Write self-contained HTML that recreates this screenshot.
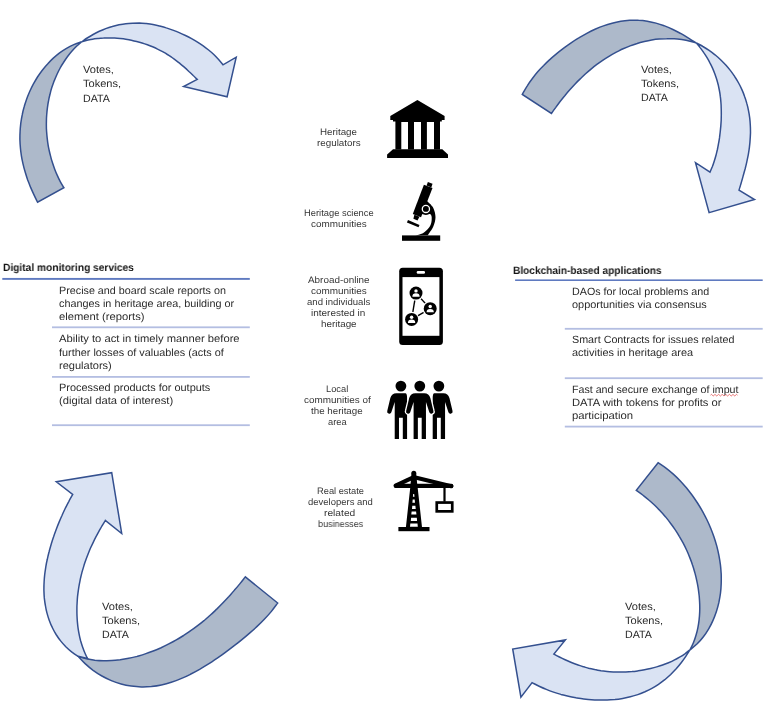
<!DOCTYPE html>
<html><head><meta charset="utf-8"><title>Diagram</title><style>
html,body{margin:0;padding:0;background:#fff}
#c{position:relative;width:771px;height:712px;overflow:hidden;background:#fff;font-family:"Liberation Sans",sans-serif;text-rendering:geometricPrecision}
#c svg{position:absolute;left:0;top:0}
.t{position:absolute;white-space:nowrap;line-height:1;transform-origin:0 0;display:inline-block;will-change:transform}
.b{font-weight:bold}
</style></head><body><div id="c">
<svg width="771" height="712" viewBox="0 0 771 712">
<path d="M37.6,202.2 C37.0,201.0 35.1,197.4 34.0,194.9 C32.8,192.4 31.7,189.9 30.6,187.4 C29.6,184.8 28.6,182.3 27.6,179.7 C26.7,177.1 25.9,174.5 25.1,171.8 C24.3,169.2 23.6,166.5 23.0,163.9 C22.4,161.2 21.8,158.5 21.4,155.8 C21.0,153.1 20.6,150.4 20.4,147.7 C20.1,144.9 20.0,142.2 19.9,139.5 C19.9,136.7 19.9,134.0 20.1,131.3 C20.2,128.6 20.5,125.8 20.8,123.1 C21.2,120.4 21.6,117.7 22.2,115.0 C22.7,112.3 23.3,109.7 24.1,107.0 C24.8,104.4 25.7,101.8 26.6,99.2 C27.5,96.6 28.6,94.0 29.7,91.5 C30.8,89.0 32.0,86.5 33.3,84.1 C34.7,81.7 36.1,79.3 37.5,77.0 C39.0,74.7 40.6,72.4 42.3,70.2 C44.0,68.0 45.7,65.9 47.6,63.9 C49.4,61.9 51.3,59.9 53.3,58.1 C55.4,56.3 57.5,54.5 59.6,52.9 C61.8,51.3 64.1,49.8 66.5,48.4 C68.8,47.0 71.3,45.7 73.8,44.6 C76.4,43.5 80.4,42.3 81.7,41.8 C80.8,42.6 78.2,44.7 76.5,46.3 C74.9,47.9 73.3,49.6 71.8,51.3 C70.2,53.1 68.8,54.9 67.4,56.7 C66.0,58.6 64.7,60.5 63.5,62.5 C62.2,64.4 61.0,66.4 59.9,68.5 C58.8,70.5 57.8,72.6 56.8,74.7 C55.9,76.8 55.0,78.9 54.1,81.1 C53.3,83.3 52.5,85.4 51.8,87.6 C51.1,89.8 50.5,92.1 50.0,94.3 C49.4,96.5 48.9,98.8 48.5,101.0 C48.0,103.3 47.7,105.6 47.4,107.9 C47.1,110.1 46.9,112.4 46.7,114.7 C46.5,117.0 46.4,119.3 46.4,121.6 C46.3,123.9 46.4,126.2 46.4,128.5 C46.5,130.8 46.7,133.1 46.9,135.4 C47.1,137.7 47.4,140.0 47.7,142.3 C48.0,144.6 48.4,146.9 48.9,149.2 C49.4,151.4 49.9,153.7 50.5,155.9 C51.0,158.2 51.7,160.4 52.4,162.6 C53.1,164.8 53.9,167.0 54.7,169.2 C55.5,171.3 56.4,173.5 57.4,175.6 C58.3,177.7 59.3,179.8 60.4,181.8 C61.5,183.8 63.3,186.7 63.9,187.7 Z" fill="#ADB9CA" stroke="#34508F" stroke-width="1.5" stroke-linejoin="miter"/>
<path d="M81.7,41.8 C82.6,41.2 85.3,39.2 87.2,38.0 C89.1,36.8 91.1,35.6 93.1,34.5 C95.1,33.4 97.2,32.3 99.3,31.3 C101.4,30.4 103.6,29.5 105.7,28.6 C107.9,27.8 110.1,27.1 112.3,26.5 C114.5,25.8 116.7,25.3 119.0,24.8 C121.2,24.4 123.5,24.0 125.8,23.7 C128.0,23.4 130.3,23.3 132.6,23.2 C134.8,23.1 137.1,23.1 139.4,23.1 C141.7,23.2 143.9,23.4 146.2,23.6 C148.5,23.9 150.7,24.2 153.0,24.6 C155.2,25.0 157.4,25.5 159.7,26.0 C161.9,26.6 164.1,27.2 166.3,27.9 C168.5,28.5 170.7,29.3 172.8,30.1 C175.0,30.9 177.1,31.7 179.2,32.6 C181.3,33.5 183.4,34.5 185.5,35.5 C187.5,36.5 189.6,37.6 191.6,38.7 C193.6,39.8 195.6,40.9 197.5,42.1 C199.4,43.3 201.3,44.6 203.2,45.9 C205.0,47.2 206.8,48.6 208.6,50.0 C210.4,51.4 212.1,52.9 213.8,54.5 C215.4,56.0 217.0,57.7 218.6,59.4 C220.1,61.1 222.3,63.9 223.0,64.8 L236.2,57.2 L227.1,96.8 L183.6,86.6 L197.2,79.4 C196.5,78.8 194.6,76.8 193.2,75.5 C191.9,74.2 190.6,72.9 189.2,71.7 C187.8,70.4 186.5,69.1 185.1,67.9 C183.7,66.7 182.3,65.4 180.9,64.3 C179.4,63.1 178.0,61.9 176.5,60.8 C175.0,59.7 173.5,58.6 172.0,57.5 C170.5,56.5 169.0,55.4 167.4,54.5 C165.8,53.5 164.2,52.6 162.6,51.7 C161.0,50.8 159.3,49.9 157.6,49.1 C156.0,48.3 154.3,47.5 152.6,46.8 C150.9,46.1 149.1,45.4 147.4,44.8 C145.6,44.2 143.9,43.6 142.1,43.0 C140.3,42.5 138.5,42.0 136.7,41.5 C134.9,41.1 133.1,40.7 131.3,40.3 C129.4,39.9 127.6,39.6 125.8,39.3 C123.9,39.0 122.1,38.8 120.2,38.6 C118.4,38.4 116.5,38.2 114.7,38.1 C112.8,38.0 111.0,38.0 109.1,38.0 C107.3,37.9 105.4,38.0 103.6,38.1 C101.8,38.1 99.9,38.3 98.1,38.5 C96.3,38.7 94.4,38.9 92.6,39.2 C90.8,39.5 89.0,39.9 87.1,40.3 C85.3,40.7 82.6,41.5 81.7,41.8 Z" fill="#DAE3F3" stroke="#34508F" stroke-width="1.5" stroke-linejoin="miter"/>
<path d="M522.3,94.4 C523.1,93.0 525.4,88.7 527.1,86.1 C528.7,83.5 530.4,81.0 532.2,78.7 C534.0,76.3 535.8,74.0 537.7,71.8 C539.6,69.6 541.6,67.5 543.7,65.5 C545.7,63.4 547.8,61.4 550.0,59.4 C552.1,57.4 554.4,55.5 556.7,53.6 C558.9,51.7 561.3,49.9 563.7,48.1 C566.1,46.3 568.6,44.5 571.1,42.8 C573.6,41.1 576.2,39.4 578.8,37.9 C581.4,36.3 584.1,34.8 586.8,33.3 C589.5,31.9 592.3,30.5 595.0,29.3 C597.8,28.1 600.6,26.9 603.5,25.9 C606.3,24.9 609.2,24.0 612.1,23.2 C615.0,22.4 617.9,21.8 620.8,21.3 C623.7,20.8 626.7,20.5 629.6,20.3 C632.6,20.2 635.5,20.1 638.5,20.3 C641.4,20.4 644.3,20.7 647.3,21.2 C650.2,21.7 653.1,22.3 656.0,23.1 C658.9,23.9 661.7,24.9 664.6,25.9 C667.4,27.0 670.2,28.2 672.9,29.5 C675.7,30.8 678.4,32.3 681.1,33.7 C683.7,35.2 686.4,36.8 688.9,38.3 C691.5,39.9 695.2,42.2 696.4,43.0 C695.2,42.7 691.6,41.6 689.1,41.0 C686.7,40.4 684.2,40.0 681.7,39.6 C679.2,39.3 676.7,39.0 674.2,38.8 C671.7,38.7 669.2,38.6 666.7,38.7 C664.2,38.7 661.7,38.9 659.2,39.1 C656.7,39.3 654.3,39.6 651.8,40.0 C649.3,40.4 646.9,40.9 644.4,41.5 C642.0,42.1 639.6,42.7 637.2,43.5 C634.8,44.2 632.4,45.0 630.1,45.9 C627.7,46.8 625.4,47.8 623.1,48.8 C620.8,49.8 618.6,51.0 616.3,52.1 C614.1,53.3 611.9,54.5 609.8,55.8 C607.6,57.1 605.5,58.4 603.4,59.8 C601.3,61.2 599.3,62.7 597.2,64.2 C595.2,65.7 593.3,67.2 591.3,68.8 C589.4,70.4 587.5,72.0 585.6,73.7 C583.8,75.4 581.9,77.1 580.2,78.9 C578.4,80.6 576.6,82.4 574.9,84.2 C573.2,86.0 571.5,87.9 569.8,89.8 C568.2,91.6 566.6,93.5 565.0,95.5 C563.4,97.4 561.8,99.4 560.3,101.3 C558.8,103.3 557.3,105.3 555.8,107.4 C554.3,109.4 552.1,112.5 551.4,113.5 Z" fill="#ADB9CA" stroke="#34508F" stroke-width="1.5" stroke-linejoin="miter"/>
<path d="M696.4,43.0 C697.5,43.6 700.8,45.2 702.9,46.5 C705.0,47.7 707.1,49.0 709.1,50.4 C711.1,51.8 713.1,53.3 715.0,54.8 C716.9,56.4 718.8,58.0 720.6,59.7 C722.4,61.4 724.1,63.2 725.8,65.0 C727.4,66.8 729.0,68.7 730.5,70.6 C732.0,72.6 733.5,74.6 734.8,76.7 C736.2,78.7 737.4,80.8 738.6,83.0 C739.8,85.1 740.9,87.3 741.9,89.6 C742.9,91.8 743.8,94.1 744.6,96.4 C745.5,98.7 746.2,101.1 746.8,103.4 C747.5,105.8 748.1,108.2 748.5,110.6 C749.0,113.0 749.4,115.4 749.7,117.9 C750.0,120.3 750.2,122.7 750.3,125.2 C750.5,127.6 750.5,130.1 750.5,132.6 C750.4,135.0 750.3,137.5 750.1,139.9 C750.0,142.4 749.7,144.8 749.4,147.3 C749.1,149.7 748.7,152.1 748.3,154.6 C747.8,157.0 747.3,159.4 746.8,161.8 C746.3,164.2 745.7,166.6 745.1,169.0 C744.4,171.4 743.8,173.7 743.1,176.1 C742.5,178.5 741.8,180.8 741.1,183.2 C740.4,185.5 739.3,189.0 739.0,190.2 L754.5,199.5 L709.1,212.6 L695.5,162.6 L710.0,172.1 C710.4,171.2 711.6,168.4 712.4,166.5 C713.1,164.7 713.7,162.8 714.3,160.9 C714.9,159.0 715.5,157.1 716.0,155.2 C716.5,153.3 716.9,151.4 717.4,149.5 C717.8,147.6 718.2,145.6 718.5,143.7 C718.9,141.8 719.2,139.8 719.5,137.9 C719.7,135.9 720.0,134.0 720.2,132.0 C720.4,130.0 720.6,128.1 720.8,126.1 C720.9,124.1 721.1,122.1 721.2,120.1 C721.2,118.2 721.3,116.2 721.3,114.2 C721.3,112.2 721.3,110.2 721.2,108.2 C721.2,106.3 721.1,104.3 720.9,102.3 C720.8,100.3 720.6,98.4 720.3,96.4 C720.1,94.4 719.8,92.5 719.4,90.5 C719.0,88.6 718.6,86.7 718.2,84.7 C717.7,82.8 717.2,80.9 716.6,79.0 C716.0,77.1 715.4,75.3 714.7,73.4 C714.0,71.6 713.2,69.7 712.4,67.9 C711.6,66.1 710.7,64.3 709.8,62.6 C708.9,60.8 707.9,59.1 706.9,57.4 C705.8,55.7 704.7,54.0 703.6,52.4 C702.5,50.7 701.3,49.1 700.1,47.6 C698.9,46.0 697.0,43.8 696.4,43.0 Z" fill="#DAE3F3" stroke="#34508F" stroke-width="1.5" stroke-linejoin="miter"/>
<path d="M277.7,603.0 C276.6,604.4 273.4,608.9 271.2,611.6 C268.9,614.3 266.6,616.9 264.3,619.3 C262.0,621.8 259.6,624.1 257.1,626.4 C254.7,628.7 252.2,630.9 249.6,633.1 C247.1,635.3 244.5,637.5 241.9,639.6 C239.3,641.8 236.6,643.9 233.9,645.9 C231.2,648.0 228.5,650.1 225.7,652.1 C223.0,654.2 220.1,656.2 217.3,658.1 C214.4,660.1 211.5,662.1 208.6,663.9 C205.6,665.8 202.6,667.6 199.6,669.4 C196.6,671.1 193.5,672.8 190.4,674.3 C187.3,675.9 184.2,677.3 181.0,678.6 C177.8,680.0 174.6,681.2 171.3,682.2 C168.0,683.3 164.7,684.2 161.4,684.9 C158.1,685.6 154.8,686.1 151.4,686.5 C148.1,686.8 144.7,687.0 141.3,686.9 C137.9,686.9 134.5,686.6 131.2,686.1 C127.8,685.6 124.4,684.9 121.1,684.0 C117.8,683.1 114.5,682.0 111.3,680.6 C108.1,679.3 105.0,677.7 101.9,676.0 C98.9,674.3 95.9,672.3 93.1,670.3 C90.3,668.2 87.6,665.9 85.1,663.6 C82.6,661.3 79.3,657.5 78.1,656.3 C79.5,656.7 83.6,658.1 86.4,658.7 C89.2,659.3 92.0,659.8 94.8,660.2 C97.6,660.5 100.4,660.7 103.3,660.7 C106.1,660.8 108.9,660.8 111.8,660.6 C114.6,660.4 117.4,660.1 120.2,659.8 C123.1,659.4 125.9,658.9 128.7,658.3 C131.5,657.8 134.2,657.1 137.0,656.4 C139.7,655.6 142.5,654.8 145.2,653.9 C147.9,653.0 150.6,652.0 153.2,651.0 C155.9,649.9 158.5,648.8 161.1,647.7 C163.7,646.5 166.3,645.2 168.8,643.9 C171.4,642.6 173.9,641.3 176.3,639.9 C178.8,638.5 181.2,637.0 183.6,635.5 C186.0,633.9 188.4,632.4 190.7,630.7 C193.1,629.1 195.4,627.4 197.6,625.7 C199.9,624.0 202.1,622.2 204.3,620.4 C206.5,618.5 208.6,616.7 210.7,614.8 C212.9,612.9 214.9,610.9 217.0,608.9 C219.0,606.9 221.0,604.9 223.0,602.8 C225.0,600.8 227.0,598.7 228.9,596.6 C230.8,594.4 232.7,592.3 234.5,590.1 C236.4,588.0 238.2,585.8 240.0,583.6 C241.8,581.4 244.4,578.0 245.3,576.9 Z" fill="#ADB9CA" stroke="#34508F" stroke-width="1.5" stroke-linejoin="miter"/>
<path d="M78.1,656.3 C77.0,655.6 73.7,653.5 71.6,651.9 C69.6,650.3 67.6,648.6 65.8,646.8 C64.0,644.9 62.2,642.9 60.6,640.9 C59.0,638.9 57.5,636.7 56.1,634.5 C54.8,632.3 53.5,630.0 52.4,627.7 C51.2,625.4 50.2,623.0 49.3,620.5 C48.4,618.1 47.7,615.6 47.0,613.1 C46.3,610.6 45.8,608.1 45.4,605.5 C44.9,603.0 44.6,600.4 44.3,597.9 C44.1,595.3 44.0,592.7 43.9,590.1 C43.9,587.5 43.9,584.9 44.1,582.3 C44.2,579.8 44.4,577.2 44.7,574.6 C45.0,572.0 45.4,569.5 45.8,566.9 C46.2,564.3 46.7,561.8 47.3,559.3 C47.8,556.7 48.4,554.2 49.1,551.7 C49.7,549.2 50.5,546.7 51.2,544.2 C52.0,541.7 52.7,539.3 53.6,536.8 C54.4,534.4 55.3,532.0 56.2,529.6 C57.1,527.1 58.0,524.7 59.0,522.4 C60.0,520.0 61.0,517.6 62.1,515.3 C63.1,512.9 64.2,510.6 65.3,508.3 C66.5,505.9 67.6,503.6 68.9,501.3 C70.1,499.0 72.1,495.6 72.7,494.5 L56.3,481.8 L111.7,472.7 L121.7,533.5 L105.3,520.5 C104.8,521.4 103.1,524.0 102.0,525.9 C101.0,527.7 99.9,529.5 98.9,531.3 C97.9,533.2 96.9,535.0 95.9,536.9 C94.9,538.8 94.0,540.7 93.1,542.6 C92.2,544.5 91.3,546.4 90.4,548.3 C89.6,550.2 88.8,552.2 88.0,554.2 C87.2,556.1 86.5,558.1 85.8,560.1 C85.1,562.1 84.4,564.0 83.8,566.1 C83.2,568.1 82.6,570.1 82.0,572.1 C81.5,574.1 81.0,576.2 80.5,578.2 C80.1,580.3 79.7,582.3 79.3,584.4 C78.9,586.5 78.6,588.5 78.3,590.6 C78.0,592.7 77.7,594.8 77.5,596.9 C77.3,599.0 77.2,601.1 77.1,603.2 C76.9,605.3 76.9,607.4 76.9,609.5 C76.9,611.6 76.9,613.7 77.0,615.8 C77.1,617.9 77.2,620.0 77.4,622.1 C77.6,624.2 77.8,626.3 78.1,628.4 C78.4,630.5 78.8,632.6 79.2,634.6 C79.6,636.7 80.1,638.8 80.6,640.8 C81.2,642.8 81.8,644.8 82.5,646.8 C83.2,648.8 83.9,650.8 84.8,652.7 C85.6,654.6 87.0,657.5 87.5,658.4 Z" fill="#DAE3F3" stroke="#34508F" stroke-width="1.5" stroke-linejoin="miter"/>
<path d="M658.1,462.7 C659.4,463.6 663.4,466.2 666.0,468.1 C668.5,470.0 670.9,472.0 673.3,474.1 C675.6,476.2 677.9,478.4 680.1,480.7 C682.2,483.0 684.3,485.3 686.4,487.7 C688.4,490.2 690.3,492.7 692.2,495.2 C694.0,497.7 695.8,500.4 697.5,503.0 C699.2,505.7 700.9,508.4 702.4,511.1 C703.9,513.9 705.4,516.7 706.8,519.5 C708.2,522.4 709.5,525.3 710.7,528.2 C711.9,531.1 713.0,534.1 714.0,537.1 C715.0,540.1 715.9,543.1 716.8,546.1 C717.6,549.2 718.3,552.2 718.9,555.3 C719.5,558.4 720.0,561.6 720.4,564.7 C720.8,567.8 721.0,571.0 721.2,574.1 C721.3,577.3 721.3,580.4 721.2,583.6 C721.1,586.7 720.9,589.9 720.5,593.0 C720.1,596.2 719.5,599.3 718.9,602.4 C718.2,605.5 717.4,608.5 716.4,611.5 C715.4,614.5 714.3,617.5 713.0,620.4 C711.8,623.3 710.3,626.1 708.7,628.8 C707.1,631.5 705.4,634.2 703.4,636.7 C701.5,639.2 699.4,641.6 697.2,643.8 C694.9,646.0 691.1,648.9 689.9,649.9 C690.5,648.7 692.4,645.2 693.4,642.7 C694.4,640.3 695.3,637.8 696.0,635.3 C696.8,632.7 697.4,630.2 697.9,627.6 C698.4,625.0 698.8,622.4 699.1,619.8 C699.4,617.2 699.6,614.5 699.7,611.9 C699.8,609.3 699.8,606.6 699.7,604.0 C699.6,601.3 699.4,598.7 699.2,596.0 C698.9,593.4 698.6,590.8 698.2,588.1 C697.8,585.5 697.3,582.9 696.7,580.3 C696.2,577.7 695.5,575.2 694.8,572.6 C694.1,570.1 693.4,567.5 692.5,565.0 C691.7,562.5 690.8,560.0 689.8,557.6 C688.8,555.1 687.8,552.7 686.7,550.3 C685.6,547.9 684.4,545.5 683.2,543.2 C682.0,540.9 680.7,538.6 679.3,536.3 C678.0,534.0 676.6,531.8 675.1,529.6 C673.6,527.4 672.1,525.3 670.5,523.2 C668.9,521.0 667.3,519.0 665.6,516.9 C663.9,514.9 662.1,512.9 660.3,511.0 C658.5,509.1 656.6,507.2 654.7,505.3 C652.8,503.5 650.8,501.7 648.8,500.0 C646.8,498.2 644.7,496.6 642.7,495.0 C640.6,493.3 637.4,491.1 636.3,490.3 Z" fill="#ADB9CA" stroke="#34508F" stroke-width="1.5" stroke-linejoin="miter"/>
<path d="M689.9,649.9 C689.2,651.0 687.2,654.2 685.8,656.3 C684.3,658.5 682.8,660.6 681.2,662.7 C679.6,664.8 677.9,666.8 676.2,668.8 C674.4,670.7 672.6,672.6 670.7,674.5 C668.8,676.3 666.8,678.0 664.8,679.7 C662.8,681.3 660.7,682.8 658.5,684.3 C656.4,685.7 654.2,687.1 651.9,688.3 C649.6,689.6 647.3,690.7 645.0,691.8 C642.6,692.8 640.2,693.8 637.8,694.6 C635.3,695.4 632.8,696.2 630.3,696.8 C627.8,697.4 625.3,698.0 622.7,698.4 C620.2,698.8 617.6,699.2 615.0,699.5 C612.4,699.7 609.8,699.9 607.2,700.0 C604.6,700.1 602.0,700.1 599.3,700.1 C596.7,700.0 594.1,699.9 591.5,699.7 C588.9,699.5 586.3,699.2 583.7,698.9 C581.1,698.6 578.6,698.2 576.0,697.8 C573.4,697.3 570.9,696.8 568.4,696.2 C565.9,695.7 563.4,695.0 560.9,694.4 C558.4,693.7 555.9,692.9 553.5,692.1 C551.1,691.3 548.7,690.4 546.3,689.4 C543.9,688.5 541.5,687.4 539.1,686.3 C536.8,685.2 533.3,683.2 532.1,682.6 L520.9,697.1 L512.7,649.0 L565.4,639.9 L553.9,654.1 C554.8,654.6 557.6,656.1 559.4,657.0 C561.3,657.9 563.2,658.8 565.1,659.7 C567.0,660.6 568.9,661.4 570.8,662.2 C572.7,663.0 574.7,663.8 576.7,664.5 C578.6,665.2 580.6,665.8 582.6,666.5 C584.6,667.1 586.6,667.6 588.6,668.2 C590.7,668.7 592.7,669.1 594.7,669.6 C596.8,670.0 598.8,670.3 600.9,670.7 C602.9,671.0 605.0,671.2 607.1,671.4 C609.2,671.7 611.2,671.8 613.3,671.9 C615.4,672.0 617.5,672.1 619.6,672.1 C621.7,672.1 623.7,672.1 625.8,672.0 C627.9,671.9 630.0,671.7 632.1,671.6 C634.2,671.4 636.2,671.1 638.3,670.8 C640.4,670.5 642.4,670.2 644.5,669.8 C646.6,669.4 648.6,669.0 650.6,668.5 C652.7,668.0 654.7,667.5 656.7,666.9 C658.7,666.3 660.7,665.7 662.6,665.0 C664.6,664.3 666.5,663.5 668.5,662.7 C670.4,661.9 672.3,661.1 674.1,660.1 C676.0,659.2 677.8,658.2 679.6,657.1 C681.4,656.1 683.2,655.0 684.9,653.8 C686.6,652.5 689.1,650.5 689.9,649.9 Z" fill="#DAE3F3" stroke="#34508F" stroke-width="1.5" stroke-linejoin="miter"/>
<g fill="#000">
<path d="M417.4,100 L444.6,116 L444.6,120 L441.8,120 L441.8,121.6 L393,121.6 L393,120 L390.3,120 L390.3,116 Z"/>
<path d="M395.4,121 H440 V149.4 H395.4 Z M401.3,122 V149.4 H408 V122 Z M414,122 V149.4 H421 V122 Z M426.9,122 V149.4 H434 V122 Z" fill-rule="evenodd"/>
<path d="M393,149.2 H442.3 L448,154.6 V157.9 H387.1 V154.6 Z"/>
</g>
<g fill="#000"><rect x="402" y="235.4" width="38.2" height="5.4"/>
<polygon points="427.9,182.1 432.5,183.8 431.3,187.4 426.6,185.6"/>
<polygon points="423.9,184.8 432.5,188.1 421.0,217.3 412.8,214.1"/>
<polygon points="414.4,214.8 419.5,216.8 417.5,220.4 413.4,218.8"/>
<path d="M427.4,201.3 C428.3,202.4 431.9,205.3 433.3,207.9 C434.6,210.6 435.5,214.2 435.5,217.3 C435.5,220.4 434.5,223.6 433.3,226.6 C432.0,229.6 428.8,233.7 427.9,235.2 L415.4,235.5 C416.6,235.1 420.6,234.5 422.9,233.2 C425.2,231.9 427.7,229.7 429.1,227.6 C430.6,225.5 431.4,222.9 431.6,220.7 C431.8,218.5 432.0,215.4 430.5,214.3 C429.0,213.3 423.8,214.3 422.4,214.3 L422.4,204.5 Z"/>
<circle cx="425.9" cy="208.9" r="6.1"/>
<circle cx="425.9" cy="208.9" r="3.6" fill="none" stroke="#fff" stroke-width="1.3"/>
<polygon points="408.0,220.0 419.5,224.9 418.5,227.3 406.9,222.4"/></g>
<g><rect x="399.2" y="267.8" width="43.7" height="77.1" rx="3.5" fill="#000"/>
<rect x="402.5" y="277.1" width="36.9" height="58.7" fill="#fff"/>
<rect x="416.7" y="271" width="8.3" height="2.7" rx="1.3" fill="#fff"/>
<line x1="416.0" y1="293.1" x2="430.2" y2="308.7" stroke="#000" stroke-width="1.4"/>
<line x1="430.2" y1="308.7" x2="411.6" y2="319.4" stroke="#000" stroke-width="1.4"/>
<line x1="416.0" y1="293.1" x2="411.6" y2="319.4" stroke="#000" stroke-width="1.4"/>
<circle cx="416.0" cy="293.1" r="7.6" fill="#fff"/>
<circle cx="416.0" cy="293.1" r="6.5" fill="#000"/>
<circle cx="416.0" cy="290.9" r="1.7" fill="#fff"/>
<path d="M412.4,296.3 a3.6,3 0 0 1 7.2,0 v0.4 h-7.2 Z" fill="#fff"/>
<circle cx="430.2" cy="308.7" r="7.6" fill="#fff"/>
<circle cx="430.2" cy="308.7" r="6.5" fill="#000"/>
<circle cx="430.2" cy="306.5" r="1.7" fill="#fff"/>
<path d="M426.6,311.9 a3.6,3 0 0 1 7.2,0 v0.4 h-7.2 Z" fill="#fff"/>
<circle cx="411.6" cy="319.4" r="7.6" fill="#fff"/>
<circle cx="411.6" cy="319.4" r="6.5" fill="#000"/>
<circle cx="411.6" cy="317.2" r="1.7" fill="#fff"/>
<path d="M408.0,322.6 a3.6,3 0 0 1 7.2,0 v0.4 h-7.2 Z" fill="#fff"/></g>
<path d="M396.40,393.37 Q391.69,393.37 390.34,398.09 L387.30,410.67 A2.0,2.0 0 0 0 391.35,412.25 L394.72,402.02 L394.72,439.10 L398.99,439.10 L398.99,417.75 L402.81,417.75 L402.81,439.10 L407.08,439.10 L407.08,402.02 L407.08,398.09 Q407.08,393.37 405.39,393.37 Z" fill="#000"/><circle cx="400.90" cy="386.07" r="5.4" fill="#000"/><path d="M434.38,393.37 Q432.70,393.37 432.70,398.09 L432.70,439.10 L436.97,439.10 L436.97,417.75 L440.79,417.75 L440.79,439.10 L445.06,439.10 L445.06,402.02 L448.43,412.25 A2.0,2.0 0 0 0 452.47,410.67 L449.44,398.09 Q448.09,393.37 443.37,393.37 Z" fill="#000"/><circle cx="438.88" cy="386.07" r="5.4" fill="#000"/><path d="M415.28,393.37 Q410.56,393.37 409.21,398.09 L406.18,410.67 A2.0,2.0 0 0 0 410.22,412.25 L413.60,402.02 L413.60,439.10 L417.87,439.10 L417.87,417.75 L421.69,417.75 L421.69,439.10 L425.96,439.10 L425.96,402.02 L429.33,412.25 A2.0,2.0 0 0 0 433.37,410.67 L430.34,398.09 Q428.99,393.37 424.27,393.37 Z" fill="#000" stroke="#fff" stroke-width="2.6" paint-order="stroke" stroke-linejoin="round"/><circle cx="419.78" cy="386.07" r="5.4" fill="#000" stroke="#fff" stroke-width="2.6" paint-order="stroke" stroke-linejoin="round"/>
<g><line x1="396" y1="485.9" x2="451.4" y2="485.9" stroke="#000" stroke-width="4.1" stroke-linecap="round"/>
<line x1="412.7" y1="477.7" x2="395.6" y2="485.7" stroke="#000" stroke-width="4.2" stroke-linecap="round"/>
<line x1="415.4" y1="477.4" x2="451.3" y2="486.2" stroke="#000" stroke-width="4.1" stroke-linecap="round"/>
<line x1="413.8" y1="473.3" x2="413.8" y2="482" stroke="#000" stroke-width="5" stroke-linecap="round"/>
<polygon points="411.3,476 416.3,476 417.7,488 422,527.2 405.9,527.2 410.2,488" fill="#000"/>
<polygon points="413.2,494.1 414.2,494.1 414.5,496.8 412.9,496.8" fill="#fff"/>
<polygon points="412.7,499.5 414.7,499.5 415.0,502.7 412.4,502.7" fill="#fff"/>
<polygon points="412.3,505.7 415.4,505.7 415.7,509.1 412.0,509.1" fill="#fff"/>
<polygon points="411.6,511.5 416.1,511.5 416.4,514.5 411.3,514.5" fill="#fff"/>
<polygon points="411.1,517.7 416.8,517.7 417.1,520.9 410.8,520.9" fill="#fff"/>
<polygon points="410.3,523.6 417.5,523.6 417.8,526.8 410.0,526.8" fill="#fff"/>
<rect x="398.4" y="527" width="31.1" height="4.2" fill="#000"/>
<rect x="443.4" y="487.7" width="2.2" height="14" fill="#000"/>
<rect x="436.75" y="502.55" width="15.5" height="8.8" fill="#fff" stroke="#000" stroke-width="2.7"/></g>
<path d="M710.5,395.2 q0.9,-1.6 1.8,0 q0.9,1.6 1.8,0 q0.9,-1.6 1.8,0 q0.9,1.6 1.8,0 q0.9,-1.6 1.8,0 q0.9,1.6 1.8,0 q0.9,-1.6 1.8,0 q0.9,1.6 1.8,0 q0.9,-1.6 1.8,0 q0.9,1.6 1.8,0 q0.9,-1.6 1.8,0 q0.9,1.6 1.8,0 q0.9,-1.6 1.8,0 q0.9,1.6 1.8,0 q0.9,-1.6 1.8,0" fill="none" stroke="#e03a3a" stroke-width="0.7"/>
<rect x="2.3" y="277.95" width="247.5" height="1.90" fill="#5F7AC0"/>
<rect x="52.0" y="326.40" width="197.8" height="1.80" fill="#B4BEE2"/>
<rect x="52.0" y="376.00" width="197.8" height="1.80" fill="#B4BEE2"/>
<rect x="52.0" y="424.30" width="197.8" height="1.80" fill="#B4BEE2"/>
<rect x="515.1" y="279.40" width="247.6" height="1.60" fill="#5F7AC0"/>
<rect x="564.8" y="327.90" width="197.9" height="1.80" fill="#B4BEE2"/>
<rect x="564.8" y="377.30" width="197.9" height="1.80" fill="#B4BEE2"/>
<rect x="564.8" y="425.70" width="197.9" height="1.80" fill="#B4BEE2"/>
</svg>
<span class="t b" id="t0" style="left:2.80px;top:263px;font-size:10.60px;color:#151515;transform:scaleX(0.9625)">Digital monitoring services</span>
<span class="t" id="t1" style="left:59.00px;top:286px;font-size:10.50px;color:#2b2b2b;transform:scaleX(1.0249)">Precise and board scale reports on</span>
<span class="t" id="t2" style="left:59.00px;top:299px;font-size:10.50px;color:#2b2b2b;transform:scaleX(1.0313)">changes in heritage area, building or</span>
<span class="t" id="t3" style="left:59.00px;top:312px;font-size:10.50px;color:#2b2b2b;transform:scaleX(1.0694)">element (reports)</span>
<span class="t" id="t4" style="left:59.00px;top:334px;font-size:10.50px;color:#2b2b2b;transform:scaleX(1.0671)">Ability to act in timely manner before</span>
<span class="t" id="t5" style="left:59.00px;top:348px;font-size:10.50px;color:#2b2b2b;transform:scaleX(1.0343)">further losses of valuables (acts of</span>
<span class="t" id="t6" style="left:59.00px;top:361px;font-size:10.50px;color:#2b2b2b;transform:scaleX(1.0517)">regulators)</span>
<span class="t" id="t7" style="left:59.00px;top:383px;font-size:10.50px;color:#2b2b2b;transform:scaleX(1.0410)">Processed products for outputs</span>
<span class="t" id="t8" style="left:59.00px;top:396px;font-size:10.50px;color:#2b2b2b;transform:scaleX(1.0692)">(digital data of interest)</span>
<span class="t b" id="t9" style="left:513.20px;top:266px;font-size:10.60px;color:#151515;transform:scaleX(0.9561)">Blockchain-based applications</span>
<span class="t" id="t10" style="left:571.90px;top:287px;font-size:10.50px;color:#2b2b2b;transform:scaleX(1.0221)">DAOs for local problems and</span>
<span class="t" id="t11" style="left:571.90px;top:300px;font-size:10.50px;color:#2b2b2b;transform:scaleX(1.0402)">opportunities via consensus</span>
<span class="t" id="t12" style="left:571.90px;top:335px;font-size:10.50px;color:#2b2b2b;transform:scaleX(1.0231)">Smart Contracts for issues related</span>
<span class="t" id="t13" style="left:571.90px;top:348px;font-size:10.50px;color:#2b2b2b;transform:scaleX(1.0434)">activities in heritage area</span>
<span class="t" id="t14" style="left:571.90px;top:385px;font-size:10.50px;color:#2b2b2b;transform:scaleX(1.0151)">Fast and secure exchange of imput</span>
<span class="t" id="t15" style="left:571.90px;top:398px;font-size:10.50px;color:#2b2b2b;transform:scaleX(1.0660)">DATA with tokens for profits or</span>
<span class="t" id="t16" style="left:571.90px;top:411px;font-size:10.50px;color:#2b2b2b;transform:scaleX(1.0790)">participation</span>
<span class="t" id="t17" style="left:82.70px;top:65px;font-size:10.50px;color:#2b2b2b;transform:scaleX(1.0581)">Votes,</span>
<span class="t" id="t18" style="left:82.90px;top:79px;font-size:10.50px;color:#2b2b2b;transform:scaleX(1.0528)">Tokens,</span>
<span class="t" id="t19" style="left:83.30px;top:94px;font-size:10.50px;color:#2b2b2b;transform:scaleX(1.0169)">DATA</span>
<span class="t" id="t20" style="left:640.70px;top:65px;font-size:10.50px;color:#2b2b2b;transform:scaleX(1.0581)">Votes,</span>
<span class="t" id="t21" style="left:640.90px;top:79px;font-size:10.50px;color:#2b2b2b;transform:scaleX(1.0528)">Tokens,</span>
<span class="t" id="t22" style="left:641.30px;top:93px;font-size:10.50px;color:#2b2b2b;transform:scaleX(1.0169)">DATA</span>
<span class="t" id="t23" style="left:101.80px;top:602px;font-size:10.50px;color:#2b2b2b;transform:scaleX(1.0581)">Votes,</span>
<span class="t" id="t24" style="left:102.00px;top:616px;font-size:10.50px;color:#2b2b2b;transform:scaleX(1.0528)">Tokens,</span>
<span class="t" id="t25" style="left:102.40px;top:630px;font-size:10.50px;color:#2b2b2b;transform:scaleX(1.0169)">DATA</span>
<span class="t" id="t26" style="left:624.60px;top:602px;font-size:10.50px;color:#2b2b2b;transform:scaleX(1.0581)">Votes,</span>
<span class="t" id="t27" style="left:624.80px;top:616px;font-size:10.50px;color:#2b2b2b;transform:scaleX(1.0528)">Tokens,</span>
<span class="t" id="t28" style="left:625.20px;top:630px;font-size:10.50px;color:#2b2b2b;transform:scaleX(1.0169)">DATA</span>
<span class="t" id="t29" style="left:320.30px;top:128px;font-size:9.30px;color:#363636;transform:scaleX(1.0529)">Heritage</span>
<span class="t" id="t30" style="left:317.00px;top:139px;font-size:9.30px;color:#363636;transform:scaleX(1.0570)">regulators</span>
<span class="t" id="t31" style="left:303.80px;top:209px;font-size:9.30px;color:#363636;transform:scaleX(1.0065)">Heritage science</span>
<span class="t" id="t32" style="left:310.60px;top:220px;font-size:9.30px;color:#363636;transform:scaleX(1.0654)">communities</span>
<span class="t" id="t33" style="left:307.80px;top:276px;font-size:9.30px;color:#363636;transform:scaleX(1.0641)">Abroad-online</span>
<span class="t" id="t34" style="left:311.00px;top:287px;font-size:9.30px;color:#363636;transform:scaleX(1.0692)">communities</span>
<span class="t" id="t35" style="left:307.40px;top:298px;font-size:9.30px;color:#363636;transform:scaleX(1.0290)">and individuals</span>
<span class="t" id="t36" style="left:311.40px;top:309px;font-size:9.30px;color:#363636;transform:scaleX(1.0719)">interested in</span>
<span class="t" id="t37" style="left:321.00px;top:320px;font-size:9.30px;color:#363636;transform:scaleX(1.0592)">heritage</span>
<span class="t" id="t38" style="left:326.20px;top:385px;font-size:9.30px;color:#363636;transform:scaleX(1.0030)">Local</span>
<span class="t" id="t39" style="left:304.20px;top:396px;font-size:9.30px;color:#363636;transform:scaleX(1.0667)">communities of</span>
<span class="t" id="t40" style="left:311.40px;top:407px;font-size:9.30px;color:#363636;transform:scaleX(1.0528)">the heritage</span>
<span class="t" id="t41" style="left:327.80px;top:418px;font-size:9.30px;color:#363636;transform:scaleX(0.9887)">area</span>
<span class="t" id="t42" style="left:316.60px;top:487px;font-size:9.30px;color:#363636;transform:scaleX(0.9972)">Real estate</span>
<span class="t" id="t43" style="left:307.60px;top:498px;font-size:9.30px;color:#363636;transform:scaleX(1.0208)">developers and</span>
<span class="t" id="t44" style="left:324.40px;top:509px;font-size:9.30px;color:#363636;transform:scaleX(1.1007)">related</span>
<span class="t" id="t45" style="left:317.70px;top:520px;font-size:9.30px;color:#363636;transform:scaleX(0.9717)">businesses</span>
</div></body></html>
